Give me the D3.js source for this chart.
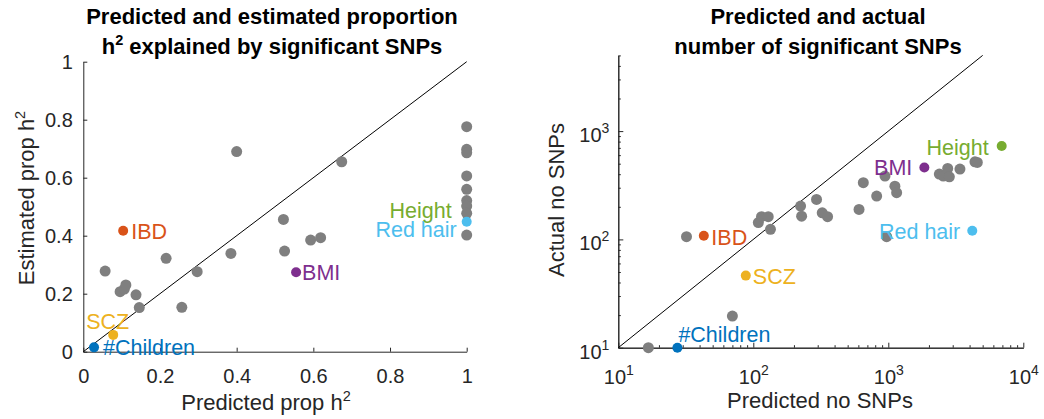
<!DOCTYPE html>
<html>
<head>
<meta charset="utf-8">
<script src="https://cdn.jsdelivr.net/npm/d3@7"></script>
<style>
  body { margin: 0; background: #fff; }
  svg { display: block; font-family: "Liberation Sans", Arial, Helvetica, sans-serif; }
</style>
</head>
<body>
<svg id="chart" width="1044" height="419"></svg>
<script>
// ---- data ----
let traits = ["IBD", "SCZ", "#Children", "BMI", "Height", "Red hair"];
let traitColors = ["#D95319", "#EDB120", "#0072BD", "#7E2F8E", "#77AC30", "#4DBEEE"];

// left panel: predicted vs estimated proportion h2
let leftGrayX = [1, 1, 1, 1, 1, 1, 1, 1, 1,
    0.40, 0.674, 0.057, 0.096, 0.107, 0.111, 0.1375, 0.146, 0.216, 0.257, 0.297, 0.385, 0.522, 0.525, 0.593, 0.619];
let leftGrayY = [0.776, 0.698, 0.686, 0.606, 0.56, 0.521, 0.502, 0.477, 0.402,
    0.69, 0.655, 0.278, 0.207, 0.216, 0.23, 0.196, 0.152, 0.322, 0.153, 0.276, 0.339, 0.456, 0.347, 0.385, 0.393];
let leftTraitX = [0.104, 0.078, 0.028, 0.555, 1, 1];
let leftTraitY = [0.417, 0.058, 0.015, 0.274, 0.502, 0.448];
let leftTicks = [0, 0.2, 0.4, 0.6, 0.8, 1];

// right panel: predicted vs actual number of SNPs
let rightGrayX = [16.7, 32, 70, 109, 115, 129, 134, 224, 228, 294, 324, 355, 607, 653, 820, 945, 972,
    1119, 1153, 2388, 2555, 2754, 2832, 3394, 4385, 4564];
let rightGrayY = [10, 106, 19.6, 143, 162, 162, 124, 203, 164, 234, 176, 162, 189, 334, 251, 384, 106,
    310, 270, 401, 384, 452, 378, 446, 521, 514];
let rightTraitX = [43, 88, 27.4, 1849, 6918, 4188];
let rightTraitY = [108, 46.3, 10, 462, 728, 120];
let rightXTicks = [10, 100, 1000, 10000];
let rightYTicks = [10, 100, 1000];

// ---- layout ----
let svg = d3.select("#chart");
let axisColor = "#262626";
let fs = 20;        // tick labels
let fsLab = 22;     // axis labels and titles
let fsTrait = 21.5; // trait annotations

function addTitle(cx, line1, line2, sup2) {
    let t = svg.append("text").attr("text-anchor", "middle")
        .attr("font-weight", "bold").attr("font-size", fsLab).attr("fill", "#000");
    t.append("tspan").attr("x", cx).attr("y", 24).text(line1);
    let l2 = t.append("tspan").attr("x", cx).attr("y", 54);
    if (sup2) {
        l2.append("tspan").text("h");
        l2.append("tspan").attr("font-size", 14.5).attr("dy", -9).text("2");
        l2.append("tspan").attr("dy", 9).text(" " + line2);
    } else {
        l2.text(line2);
    }
}

function styleAxis(g) {
    g.select(".domain").attr("stroke", axisColor).attr("stroke-width", 1);
    g.selectAll(".tick line").attr("stroke", axisColor);
    g.selectAll(".tick text").attr("fill", axisColor).attr("font-size", fs)
        .attr("font-family", "\"Liberation Sans\", Arial, Helvetica, sans-serif");
}

function labelTraits(g, xs, ys, x, y, place) {
    traits.forEach(function (name, i) {
        let p = place[name];
        g.append("text")
            .attr("x", x(xs[i]) + p.dx)
            .attr("y", y(ys[i]) + p.dy + 0.36 * fsTrait)
            .attr("text-anchor", p.anchor)
            .attr("font-size", fsTrait)
            .attr("fill", traitColors[i])
            .text(name);
    });
}

// ================= LEFT PANEL =================
let xL = d3.scaleLinear().domain([0, 1]).range([83.3, 466.7]);
let yL = d3.scaleLinear().domain([0, 1]).range([351.7, 61.7]);

addTitle(272, "Predicted and estimated proportion", "explained by significant SNPs", true);

let left = svg.append("g");
left.append("g").attr("transform", "translate(0," + yL(0) + ")")
    .call(d3.axisBottom(xL).tickValues(leftTicks).tickFormat(d3.format("")).tickSizeInner(-4).tickSizeOuter(0).tickPadding(17))
    .call(styleAxis);
left.append("g").attr("transform", "translate(" + xL(0) + ",0)")
    .call(d3.axisLeft(yL).tickValues(leftTicks).tickFormat(d3.format("")).tickSizeInner(-4).tickSizeOuter(0).tickPadding(10.5))
    .call(styleAxis);

left.append("line")
    .attr("x1", xL(0)).attr("y1", yL(0)).attr("x2", xL(1)).attr("y2", yL(1))
    .attr("stroke", "#000").attr("stroke-width", 1);

// Height sits underneath the grey markers at x = 1
left.append("circle").attr("cx", xL(leftTraitX[4])).attr("cy", yL(leftTraitY[4])).attr("r", 5)
    .attr("fill", traitColors[4]);
left.selectAll("circle.gray").data(d3.range(leftGrayX.length)).enter().append("circle")
    .attr("class", "gray")
    .attr("cx", function (i) { return xL(leftGrayX[i]); })
    .attr("cy", function (i) { return yL(leftGrayY[i]); })
    .attr("r", 5.5).attr("fill", "#7f7f7f");
left.selectAll("circle.trait").data([0, 1, 2, 3, 5]).enter().append("circle")
    .attr("class", "trait")
    .attr("cx", function (i) { return xL(leftTraitX[i]); })
    .attr("cy", function (i) { return yL(leftTraitY[i]); })
    .attr("r", 5).attr("fill", function (i) { return traitColors[i]; });

labelTraits(left, leftTraitX, leftTraitY, xL, yL, {
    "IBD": { dx: 8, dy: 0, anchor: "start" },
    "SCZ": { dx: -27, dy: -14, anchor: "start" },
    "#Children": { dx: 9, dy: 0, anchor: "start" },
    "BMI": { dx: 6, dy: 0, anchor: "start" },
    "Height": { dx: -15, dy: 4, anchor: "end" },
    "Red hair": { dx: -10, dy: 7, anchor: "end" }
});

let xlabL = svg.append("text").attr("x", 266).attr("y", 410).attr("text-anchor", "middle")
    .attr("font-size", fsLab).attr("fill", axisColor);
xlabL.append("tspan").text("Predicted prop h");
xlabL.append("tspan").attr("font-size", 14.5).attr("dy", -9).text("2");

let ylabL = svg.append("text").attr("transform", "translate(33.5,198) rotate(-90)").attr("text-anchor", "middle")
    .attr("font-size", fsLab).attr("fill", axisColor);
ylabL.append("tspan").text("Estimated prop h");
ylabL.append("tspan").attr("font-size", 14.5).attr("dy", -9).text("2");

// ================= RIGHT PANEL =================
let xR = d3.scaleLog().domain([10, 10000]).range([618.3, 1023.3]);
let yR = d3.scaleLog().domain([10, 5000]).range([347.7, 55.4]);

addTitle(818, "Predicted and actual", "number of significant SNPs", false);

let right = svg.append("g");
let minorX = [], minorY = [];
[10, 100, 1000].forEach(function (d) {
    for (let k = 2; k <= 9; k++) { minorX.push(d * k); if (d * k <= 5000) minorY.push(d * k); }
});

right.append("g").attr("transform", "translate(0," + yR(10) + ")")
    .call(d3.axisBottom(xR).tickValues(minorX).tickFormat("").tickSizeInner(-2.5).tickSizeOuter(0))
    .call(styleAxis);
let xaxR = right.append("g").attr("transform", "translate(0," + yR(10) + ")")
    .call(d3.axisBottom(xR).tickValues(rightXTicks).tickFormat("").tickSizeInner(-5).tickSizeOuter(0))
    .call(styleAxis);
right.append("g").attr("transform", "translate(" + xR(10) + ",0)")
    .call(d3.axisLeft(yR).tickValues(minorY).tickFormat("").tickSizeInner(-2.5).tickSizeOuter(0))
    .call(styleAxis);
let yaxR = right.append("g").attr("transform", "translate(" + xR(10) + ",0)")
    .call(d3.axisLeft(yR).tickValues(rightYTicks).tickFormat("").tickSizeInner(-5).tickSizeOuter(0))
    .call(styleAxis);

// power-of-ten tick labels
function powLabel(sel) {
    sel.each(function (d) {
        let t = d3.select(this);
        t.text("");
        t.append("tspan").text("10");
        t.append("tspan").attr("font-size", 14).attr("dy", -9).text(Math.round(Math.log10(d)));
    });
}
xaxR.selectAll(".tick").append("text")
    .attr("y", 384 - yR(10)).attr("dy", 0).attr("text-anchor", "middle")
    .attr("fill", axisColor).attr("font-size", fs).call(powLabel);
yaxR.selectAll(".tick").append("text")
    .attr("x", -9).attr("y", 10.5).attr("dy", 0).attr("text-anchor", "end")
    .attr("fill", axisColor).attr("font-size", fs).call(powLabel);

right.append("line")
    .attr("x1", xR(10)).attr("y1", yR(10)).attr("x2", xR(5000)).attr("y2", yR(5000))
    .attr("stroke", "#000").attr("stroke-width", 1);

right.selectAll("circle.gray").data(d3.range(rightGrayX.length)).enter().append("circle")
    .attr("class", "gray")
    .attr("cx", function (i) { return xR(rightGrayX[i]); })
    .attr("cy", function (i) { return yR(rightGrayY[i]); })
    .attr("r", 5.5).attr("fill", "#7f7f7f");
right.selectAll("circle.trait").data(d3.range(traits.length)).enter().append("circle")
    .attr("class", "trait")
    .attr("cx", function (i) { return xR(rightTraitX[i]); })
    .attr("cy", function (i) { return yR(rightTraitY[i]); })
    .attr("r", 5).attr("fill", function (i) { return traitColors[i]; });

labelTraits(right, rightTraitX, rightTraitY, xR, yR, {
    "IBD": { dx: 7.5, dy: 1, anchor: "start" },
    "SCZ": { dx: 7, dy: 1, anchor: "start" },
    "#Children": { dx: 1, dy: -13, anchor: "start" },
    "BMI": { dx: -12, dy: 0, anchor: "end" },
    "Height": { dx: -13, dy: 1, anchor: "end" },
    "Red hair": { dx: -12, dy: 0, anchor: "end" }
});

svg.append("text").attr("x", 820).attr("y", 408).attr("text-anchor", "middle")
    .attr("font-size", fsLab).attr("fill", axisColor).text("Predicted no SNPs");
svg.append("text").attr("transform", "translate(563.5,200) rotate(-90)").attr("text-anchor", "middle")
    .attr("font-size", fsLab).attr("fill", axisColor).text("Actual no SNPs");
</script>
</body>
</html>
